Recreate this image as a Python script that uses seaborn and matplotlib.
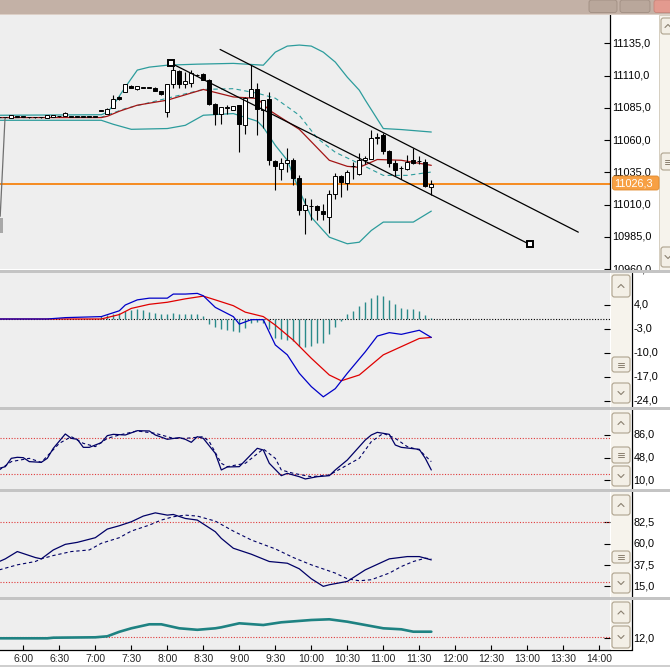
import matplotlib
matplotlib.use("Agg")
import matplotlib.pyplot as plt
import matplotlib.transforms as mtransforms
from matplotlib.patches import Rectangle, FancyBboxPatch
from matplotlib.lines import Line2D
import seaborn as sns

W, H, DPI = 670, 667, 100

# 5 minute bars, bar 0 = 5:40 ... bar 72 = 11:40
bar_open = [11077.8, 11077.8, 11077.4, 11078.2, 11078.2, 11077.8, 11077.8, 11077.8, 11077.5, 11077.8,
            11078.5, 11078.8, 11078.3, 11078.2, 11078.2, 11078.2, 11078.2, 11082.7, 11080.1, 11085.0,
            11093.3, 11097.4, 11102.1, 11099.3, 11100.8, 11100.8, 11100.8, 11097.9, 11081.9, 11103.2,
            11113.7, 11103.9, 11104.4, 11110.4, 11110.9, 11107.0, 11088.4, 11080.1, 11085.3, 11083.2,
            11087.1, 11071.5, 11093.5, 11100.0, 11083.2, 11091.7, 11043.6, 11037.9, 11042.3, 11044.9,
            11030.9, 11005.6, 11008.7, 11008.7, 11005.0, 11000.4, 11018.0, 11032.0, 11026.8, 11039.7,
            11034.0, 11044.4, 11045.7, 11062.0, 11063.8, 11051.6, 11042.3, 11038.2, 11037.9, 11044.4,
            11043.6, 11043.1, 11023.6]
bar_high = [11078.2, 11078.2, 11079.5, 11078.5, 11078.5, 11078.1, 11078.1, 11078.1, 11079.7, 11079.7,
            11078.8, 11081.6, 11078.6, 11078.5, 11078.5, 11078.5, 11078.5, 11083.0, 11085.0, 11094.8,
            11094.0, 11103.5, 11102.4, 11102.0, 11101.1, 11101.1, 11101.0, 11098.1, 11103.9, 11118.1,
            11114.3, 11112.9, 11114.3, 11111.0, 11111.9, 11107.5, 11088.5, 11086.0, 11087.1, 11086.5,
            11087.2, 11093.3, 11118.1, 11104.2, 11091.0, 11097.2, 11044.4, 11045.9, 11054.2, 11045.9,
            11032.7, 11015.4, 11014.6, 11009.4, 11010.8, 11021.1, 11034.5, 11032.7, 11036.6, 11043.1,
            11050.0, 11047.5, 11068.2, 11065.6, 11065.6, 11052.2, 11044.4, 11039.7, 11048.3, 11054.2,
            11047.5, 11045.7, 11029.4]
bar_low = [11077.4, 11077.4, 11077.2, 11077.9, 11077.9, 11077.5, 11077.5, 11077.5, 11077.3, 11077.6,
           11078.2, 11078.6, 11078.0, 11077.9, 11077.9, 11077.9, 11077.9, 11082.4, 11080.0, 11084.7,
           11091.5, 11097.2, 11100.3, 11099.1, 11100.5, 11100.5, 11098.0, 11095.2, 11078.0, 11100.3,
           11100.3, 11100.3, 11101.3, 11110.0, 11106.5, 11087.1, 11071.5, 11072.3, 11080.6, 11083.0,
           11050.8, 11064.6, 11093.5, 11063.8, 11069.2, 11040.5, 11021.1, 11028.8, 11035.3, 11025.0,
           11001.7, 10986.9, 10997.8, 10997.8, 10997.8, 10987.9, 11014.6, 11015.9, 11021.1, 11030.2,
           11032.7, 11041.8, 11045.7, 11057.3, 11049.6, 11039.2, 11032.0, 11030.2, 11036.6, 11041.8,
           11041.8, 11023.6, 11017.2]
bar_close = [11077.8, 11077.8, 11079.3, 11078.2, 11078.2, 11077.8, 11077.8, 11077.8, 11079.5, 11079.5,
             11078.5, 11081.4, 11078.3, 11078.2, 11078.2, 11078.2, 11078.2, 11082.7, 11084.5, 11091.7,
             11091.7, 11103.2, 11100.5, 11101.8, 11100.8, 11100.8, 11098.2, 11095.4, 11103.9, 11114.3,
             11103.2, 11105.9, 11112.2, 11110.4, 11107.0, 11088.4, 11080.1, 11085.8, 11085.3, 11086.3,
             11072.9, 11092.7, 11100.0, 11084.5, 11091.0, 11044.4, 11040.0, 11042.3, 11044.9, 11030.9,
             11006.1, 11009.4, 11008.7, 11006.1, 11002.5, 11018.0, 11032.0, 11027.5, 11035.3, 11039.7,
             11044.9, 11046.5, 11061.7, 11062.0, 11051.6, 11042.3, 11036.6, 11038.2, 11043.1, 11042.3,
             11043.6, 11024.4, 11026.3]
last_price = 11026.3

# bollinger bands and moving average (bar index, price)
bb_up_idx = [0, 17, 18, 19, 21, 23, 25, 28, 33, 39, 44, 46, 48, 50, 52, 54, 56, 58, 60, 61, 64, 67, 72]
bb_up_val = [11079.3, 11079.7, 11081.6, 11087.1, 11101.1, 11114.3, 11116.6, 11118.1, 11118.9, 11119.5,
             11118.1, 11128.2, 11132.9, 11133.7, 11132.9, 11128.2, 11120.5, 11108.8, 11098.7, 11091.0,
             11069.0, 11068.2, 11066.3]
bb_low_idx = [0, 17, 19, 22, 28, 31, 34, 39, 43, 44, 46, 48, 50, 52, 55, 58, 60, 62, 64, 69, 72]
bb_low_val = [11075.4, 11075.4, 11072.3, 11068.4, 11069.0, 11071.5, 11079.3, 11080.6, 11074.7, 11070.0,
              11056.0, 11044.4, 11021.1, 11000.3, 10984.8, 10979.7, 10980.9, 10990.0, 10996.5, 10996.5,
              11005.0]
bb_mid_idx = [0, 17, 21, 28, 34, 39, 43, 46, 50, 53, 56, 60, 64, 68, 72]
bb_mid_val = [11077.4, 11077.8, 11084.5, 11092.5, 11099.3, 11099.9, 11096.4, 11092.5, 11079.3, 11061.5,
              11050.6, 11041.8, 11032.7, 11032.7, 11035.3]
sma_idx = [0, 17, 18, 20, 23, 28, 34, 39, 43, 45, 50, 55, 58, 60, 63, 67, 72]
sma_val = [11077.5, 11077.5, 11078.5, 11082.4, 11087.1, 11091.0, 11099.3, 11093.5, 11092.3, 11083.2,
           11068.4, 11044.4, 11039.7, 11038.9, 11045.0, 11044.4, 11040.5]

# drawn trend lines
trend1_idx = [36.8, 96.5]
trend1_val = [11130.3, 10988.7]
trend2_idx = [28.6, 88.4]
trend2_val = [11119.7, 10979.2]
old_line_idx = [0.95, 0.15]
old_line_val = [11077.0, 11001.0]

# MACD
macd_idx = [0, 8, 11, 17, 20, 21, 23, 25, 28, 29, 31, 33, 34, 36, 39, 40, 42, 44, 46, 48, 50, 52, 54,
            56, 58, 61, 63, 65, 67, 70, 72]
macd_val = [-0.1, -0.1, 0.3, 0.6, 2.3, 4.0, 5.5, 6.0, 6.0, 7.2, 7.2, 7.4, 6.7, 3.3, 0.6, -1.6, -0.3, -0.3,
            -7.7, -10.6, -16.0, -19.9, -22.9, -20.5, -16.0, -9.7, -5.1, -4.1, -4.6, -3.4, -5.5]
signal_idx = [0, 17, 20, 22, 25, 28, 31, 34, 36, 39, 41, 44, 46, 49, 52, 55, 57, 60, 64, 67, 70, 72]
signal_val = [-0.1, -0.1, 1.2, 3.0, 4.2, 4.8, 5.8, 6.6, 5.5, 3.8, 1.9, 0.6, -1.9, -6.3, -11.6, -16.5,
              -18.2, -16.5, -10.6, -8.2, -5.8, -5.5]
hist_start = 17
hist_val = [0.78, 0.98, 1.27, 1.76, 2.25, 2.54, 2.73, 2.54, 2.05, 1.76, 1.46, 1.27, 1.76, 1.27, 1.27,
            1.27, 1.27, 0.78, -1.66, -2.34, -2.93, -3.32, -3.61, -3.91, -2.64, -1.17, -0.98, -1.37,
            -3.13, -5.57, -6.05, -6.25, -6.54, -8.0, -8.2, -8.0, -7.23, -7.03, -4.59, -2.34, -0.68,
            1.27, 2.25, 3.71, 4.88, 6.15, 6.84, 6.64, 5.47, 4.2, 3.22, 2.73, 2.73, 2.25, 0.98, 0.29]

# fast stochastic
st1_k_idx = [0, 1, 2, 3, 4, 5, 7, 8, 9, 11, 12, 13, 14, 15, 17, 18, 19, 21, 23, 25, 26, 28, 30, 31, 32,
             33, 34, 36, 37, 38, 40, 42, 43, 44, 45, 47, 48, 50, 51, 53, 55, 56, 58, 61, 62, 63, 65,
             66, 67, 70, 71, 72]
st1_k_val = [30.0, 32.8, 46.7, 48.4, 47.8, 41.2, 40.0, 46.7, 63.4, 87.3, 80.0, 78.4, 65.0, 65.0, 72.8,
             84.5, 86.7, 85.6, 92.8, 92.3, 85.6, 78.4, 81.2, 78.4, 73.4, 82.8, 80.0, 55.0, 27.3, 32.3,
             32.8, 53.4, 63.4, 60.6, 38.4, 17.8, 21.7, 16.1, 12.3, 16.1, 17.8, 27.3, 43.9, 77.3, 85.6,
             90.0, 86.7, 68.9, 65.0, 61.7, 46.7, 27.3]
st1_d_idx = [0, 2, 5, 7, 10, 12, 14, 16, 18, 20, 23, 26, 29, 31, 34, 35, 37, 38, 41, 44, 46, 47, 49,
             52, 55, 57, 60, 62, 64, 66, 68, 70, 72]
st1_d_val = [27.3, 41.2, 46.7, 40.0, 71.7, 82.8, 71.7, 66.2, 80.0, 85.6, 92.3, 88.4, 80.0, 80.0, 82.8,
             74.5, 38.4, 32.8, 38.4, 62.3, 46.7, 27.3, 21.7, 16.1, 18.9, 30.0, 46.7, 74.5, 88.4, 80.0,
             66.2, 60.6, 41.2]

# slow stochastic
st2_k_idx = [0, 1, 3, 5, 6, 7, 9, 11, 13, 16, 18, 20, 22, 24, 26, 28, 29, 31, 33, 36, 37, 39, 42, 45,
             48, 50, 52, 54, 55, 58, 61, 65, 68, 70, 72]
st2_k_val = [41.3, 44.1, 51.8, 47.6, 45.5, 44.1, 53.5, 59.4, 61.5, 66.4, 75.5, 79.0, 83.2, 89.2, 92.6,
             90.2, 90.9, 86.7, 85.0, 72.7, 65.7, 55.3, 49.0, 41.3, 39.5, 33.6, 23.1, 15.1, 16.8, 20.3,
             32.5, 44.1, 46.5, 46.5, 43.0]
st2_d_idx = [0, 3, 6, 7, 9, 12, 15, 17, 20, 22, 25, 27, 29, 31, 33, 36, 39, 42, 46, 49, 52, 56, 58,
             60, 62, 65, 67, 69, 71, 72]
st2_d_val = [32.5, 37.8, 41.3, 44.1, 47.6, 51.8, 53.5, 60.5, 66.4, 73.4, 79.7, 85.0, 88.5, 90.2, 89.2,
             83.9, 73.4, 64.0, 54.6, 45.5, 37.8, 29.1, 23.1, 21.0, 22.1, 29.1, 36.0, 41.3, 44.8, 44.1]

# bottom indicator
adx_idx = [0, 8, 9, 16, 18, 20, 22, 25, 27, 30, 33, 36, 37, 40, 44, 47, 52, 55, 58, 61, 64, 67, 69, 72]
adx_val = [12.0, 12.0, 12.6, 13.0, 14.0, 18.5, 22.0, 26.0, 26.0, 22.0, 20.5, 22.0, 23.0, 27.0, 25.3,
           28.0, 30.3, 31.0, 28.6, 25.3, 22.0, 21.0, 18.6, 18.6]

time_labels = ['6:00', '6:30', '7:00', '7:30', '8:00', '8:30', '9:00', '9:30', '10:00', '10:30',
               '11:00', '11:30', '12:00', '12:30', '13:00', '13:30', '14:00']

price_ticks = [11135, 11110, 11085, 11060, 11035, 11010, 10985, 10960]
macd_ticks = [4, -3, -10, -17, -24]
st1_ticks = [86, 48, 10]
st1_levels = [80, 20]
st2_ticks = [82.5, 60, 37.5, 15]
st2_levels = [83, 20]
adx_ticks = [12]
adx_level = 13.5

# colours
BG = '#eeeeee'
TEAL = '#2c9c9c'
HIST = '#2a8a8a'
ADX = '#1e8282'
SMA_RED = '#a31515'
NAVY = '#000066'
DOT_RED = '#e03a3a'
ORANGE = '#f68b1f'

sns.set_style('white')
plt.rcParams['font.family'] = ['Liberation Sans', 'DejaVu Sans']

fig = plt.figure(figsize=(W / DPI, H / DPI), dpi=DPI)
fig.patch.set_facecolor('white')
pxt = mtransforms.Affine2D().scale(1.0 / DPI) + fig.dpi_scale_trans

XLIM = (0.7 / 6, 610.7 / 6)


def px_axes(x0, y0, x1, y1, ylim):
    ax = fig.add_axes([x0 / W, 1 - y1 / H, (x1 - x0) / W, (y1 - y0) / H])
    ax.set_facecolor(BG)
    ax.set_xlim(*XLIM)
    ax.set_ylim(*ylim)
    for s in ax.spines.values():
        s.set_visible(False)
    ax.set_xticks([])
    ax.yaxis.set_ticks_position('right')
    ax.tick_params(axis='y', direction='in', length=4.4, width=0.8, color='black', labelright=False,
                   labelleft=False)
    return ax


def box(x0, y0, x1, y1, fc, ec='none', lw=0.0, z=1.5, round_=False):
    if round_:
        p = FancyBboxPatch((x0, H - y1), x1 - x0, y1 - y0, boxstyle='round,pad=0,rounding_size=2.5',
                           fc=fc, ec=ec, lw=lw, zorder=z, transform=pxt)
    else:
        p = Rectangle((x0, H - y1), x1 - x0, y1 - y0, fc=fc, ec=ec, lw=lw, zorder=z, transform=pxt)
    fig.add_artist(p)


def fline(xs, ys, color, lw=0.8, z=1.6):
    fig.add_artist(Line2D(xs, [H - y for y in ys], color=color, lw=lw, zorder=z, transform=pxt))


def ylabels(ax, ticks, x_px, fmt='{:.1f}'):
    ax.set_yticks(ticks)
    tr = mtransforms.blended_transform_factory(pxt, ax.transData)
    for t in ticks:
        ax.text(x_px, t, fmt.format(t).replace('.', ','), transform=tr, ha='left', va='center',
                fontsize=7.8, color='black', clip_on=False)


def scroll_button(x0, y0, x1, y1, kind):
    box(x0, y0, x1, y1, '#f3efe6', ec='#aea38e', lw=0.8, z=1.7, round_=True)
    cx, cy = (x0 + x1) / 2, (y0 + y1) / 2
    if kind == 'up':
        fline([cx - 3, cx, cx + 3], [cy + 1.5, cy - 1.5, cy + 1.5], '#8a8070', 0.8, 1.8)
    elif kind == 'down':
        fline([cx - 3, cx, cx + 3], [cy - 1.5, cy + 1.5, cy - 1.5], '#8a8070', 0.8, 1.8)
    else:
        for dy in (-2, 0, 2):
            fline([cx - 3, cx + 3], [cy + dy, cy + dy], '#8a8070', 0.7, 1.8)


# ---------------- main price panel ----------------
ax = px_axes(0, 15, 610, 269.5, (10959.75, 11157.0))
ax.spines['right'].set_visible(True)
ax.spines['right'].set_color('black')
ax.spines['right'].set_linewidth(0.9)
ylabels(ax, price_ticks, 612)

ax.axhline(last_price, color=ORANGE, lw=1.4, zorder=1.5)
sns.lineplot(x=bb_up_idx, y=bb_up_val, ax=ax, color=TEAL, lw=0.9, estimator=None, sort=False)
sns.lineplot(x=bb_low_idx, y=bb_low_val, ax=ax, color=TEAL, lw=0.9, estimator=None, sort=False)
sns.lineplot(x=bb_mid_idx, y=bb_mid_val, ax=ax, color=TEAL, lw=0.8, linestyle=(0, (4, 3)),
             estimator=None, sort=False)
sns.lineplot(x=sma_idx, y=sma_val, ax=ax, color=SMA_RED, lw=0.9, estimator=None, sort=False)

idx = list(range(len(bar_open)))
ax.vlines(idx, bar_low, bar_high, color='black', lw=0.8, zorder=3)
bottoms = [min(o, c) for o, c in zip(bar_open, bar_close)]
heights = [max(abs(c - o), 0.4) for o, c in zip(bar_open, bar_close)]
colors = ['white' if c >= o else 'black' for o, c in zip(bar_open, bar_close)]
ax.bar(idx, heights, bottom=bottoms, width=0.72, color=colors, edgecolor='black', linewidth=0.7, zorder=3.5)

ax.plot(trend1_idx, trend1_val, color='black', lw=0.9, zorder=4)
ax.plot(trend2_idx, trend2_val, color='black', lw=0.9, zorder=4, marker='s', ms=4.2, mfc='white',
        mec='black', mew=1.4)
ax.plot(old_line_idx, old_line_val, color='#707070', lw=0.9, zorder=4)
ax.add_patch(Rectangle((0.1, 10987.7), 0.45, 12.2, fc='#a8a8a8', ec='none', zorder=4))
ax.set_xlim(*XLIM)
ax.set_ylim(10959.75, 11157.0)

# price tag
box(612.5, 176, 659, 190, '#f7a044', ec='#e08a2c', lw=0.6, z=1.7, round_=True)
fig.text(614.5, H - 183.3, f'{last_price:.1f}'.replace('.', ','), transform=pxt, ha='left', va='center',
         fontsize=7.8, color='white', zorder=1.8)

# ---------------- MACD ----------------
ax_m = px_axes(0, 273, 610, 406.5, (-25.73, 13.37))
ylabels(ax_m, macd_ticks, 633.5)
ax_m.axhline(0, color='black', lw=0.8, linestyle=(0, (1, 1.5)), zorder=1)
ax_m.vlines(range(hist_start, hist_start + len(hist_val)), 0, hist_val, color=HIST, lw=1.0, zorder=2)
sns.lineplot(x=signal_idx, y=signal_val, ax=ax_m, color='#e00000', lw=0.9, estimator=None, sort=False)
sns.lineplot(x=macd_idx, y=macd_val, ax=ax_m, color='#0000c8', lw=0.9, estimator=None, sort=False)
ax_m.set_xlim(*XLIM)
ax_m.set_ylim(-25.73, 13.37)

# ---------------- stochastic 1 ----------------
ax_s1 = px_axes(0, 409.5, 610, 488.5, (-3.6, 128.1))
ylabels(ax_s1, st1_ticks, 633.5)
for lv in st1_levels:
    ax_s1.axhline(lv, color=DOT_RED, lw=0.8, linestyle=(0, (1, 1.5)), zorder=1)
sns.lineplot(x=st1_d_idx, y=st1_d_val, ax=ax_s1, color=NAVY, lw=0.8, linestyle=(0, (3, 2.5)),
             estimator=None, sort=False)
sns.lineplot(x=st1_k_idx, y=st1_k_val, ax=ax_s1, color=NAVY, lw=0.9, estimator=None, sort=False)
ax_s1.set_xlim(*XLIM)
ax_s1.set_ylim(-3.6, 128.1)

# ---------------- stochastic 2 ----------------
ax_s2 = px_axes(0, 491.8, 610, 596.7, (4.2, 114.8))
ylabels(ax_s2, st2_ticks, 633.5)
for lv in st2_levels:
    ax_s2.axhline(lv, color=DOT_RED, lw=0.8, linestyle=(0, (1, 1.5)), zorder=1)
sns.lineplot(x=st2_d_idx, y=st2_d_val, ax=ax_s2, color=NAVY, lw=0.8, linestyle=(0, (3, 2.5)),
             estimator=None, sort=False)
sns.lineplot(x=st2_k_idx, y=st2_k_val, ax=ax_s2, color=NAVY, lw=0.9, estimator=None, sort=False)
ax_s2.set_xlim(*XLIM)
ax_s2.set_ylim(4.2, 114.8)

# ---------------- bottom indicator + time axis ----------------
ax_b = px_axes(0, 600, 610, 650, (0.3, 50.3))
ylabels(ax_b, adx_ticks, 633.5)
ax_b.axhline(adx_level, color=DOT_RED, lw=0.8, linestyle=(0, (1, 1.5)), zorder=1)
sns.lineplot(x=adx_idx, y=adx_val, ax=ax_b, color=ADX, lw=1.9, estimator=None, sort=False)
ax_b.spines['bottom'].set_visible(True)
ax_b.spines['bottom'].set_color('black')
ax_b.spines['bottom'].set_linewidth(0.9)
ax_b.set_xticks(list(range(4, 4 + 6 * len(time_labels), 6)))
ax_b.set_xticklabels(time_labels)
ax_b.tick_params(axis='x', direction='in', length=3.6, width=0.8, color='black', pad=2.6, labelsize=7.5,
                 bottom=True)
ax_b.set_xlim(*XLIM)
ax_b.set_ylim(0.3, 50.3)

for a in (ax, ax_m, ax_s1, ax_s2, ax_b):
    a.set_xlabel('')
    a.set_ylabel('')

# ---------------- window chrome ----------------
box(0, 0, W, 14, '#c3b1a6', z=1.5)
box(0, 14, W, 15, '#dccfc6', z=1.5)
box(589, 0, 617, 12.5, '#b9a79b', ec='#a08e82', lw=0.6, z=1.6, round_=True)
box(620, 0, 650, 12.5, '#b9a79b', ec='#a08e82', lw=0.6, z=1.6, round_=True)
box(654, 0, 672, 12.5, '#e39a8f', ec='#c98479', lw=0.6, z=1.6, round_=True)

# panel separators
for y0, y1 in ((269.5, 273), (406.5, 409.5), (488.5, 491.8), (596.7, 600)):
    box(0, y0, W, y1, '#c4c4c4', z=1.9)

# right axis line of lower panels and bottom axis continuation
fline([632, 632], [273, 650], 'black', 0.9, 1.6)
fline([610, 632], [650, 650], 'black', 0.9, 1.6)
box(0, 665, W, 667, '#cfcfcf', z=1.5)

# scroll bars in lower panels
for (y0, y1), (u0, u1), (t0, t1), (d0, d1) in (
        ((273, 406.5), (275, 297), (357, 372), (383, 403)),
        ((409.5, 488.5), (413, 433), (447, 463), (466, 486)),
        ((491.8, 596.7), (495, 515), (551, 563), (573, 593))):
    box(611, y0, 630.5, y1, '#f6f3ec', z=1.6)
    scroll_button(612, u0, 630, u1, 'up')
    scroll_button(612, t0, 630, t1, 'thumb')
    scroll_button(612, d0, 630, d1, 'down')
box(611, 600, 630.5, 650, '#f6f3ec', z=1.6)
scroll_button(612, 602, 630, 623, 'up')
scroll_button(612, 626, 630, 648, 'down')

# main panel scroll bar (partly visible)
box(659, 15, W, 269.5, '#f6f3ec', ec='#d0c8b8', lw=0.6, z=1.6)
scroll_button(661, 18, 675, 34, 'up')
scroll_button(661, 153, 675, 170, 'thumb')
scroll_button(661, 247, 675, 267, 'down')

fig.savefig('out.png', dpi=DPI, facecolor='white')
